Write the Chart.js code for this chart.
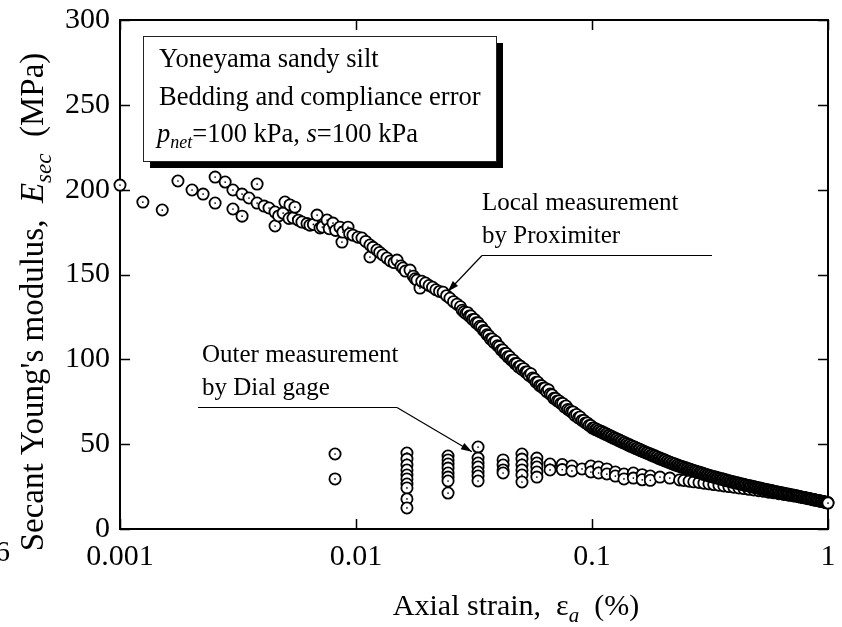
<!DOCTYPE html>
<html>
<head>
<meta charset="utf-8">
<script src="https://cdn.jsdelivr.net/npm/chart.js@4.4.1/dist/chart.umd.min.js"></script>
<style>
html,body{margin:0;padding:0;background:#fff;}
canvas{display:block;}
</style>
</head>
<body>
<canvas id="c" width="842" height="627"></canvas>
<script>
// ---------------- data ----------------
// Local measurement by Proximiter : small strains (scattered part)
const localStrainA = [
0.00100,0.00125,0.00151,0.00176,0.00202,0.00225,0.00253,0.00253,0.00279,0.00301,
0.00301,0.00329,0.00329,0.00352,0.00381,0.00381,0.00408,0.00428,0.00454,0.00454,
0.00470,0.00491,0.00500,0.00520,0.00525,0.00541,0.00551,0.00570,0.00590,0.00620,
0.00638,0.00660,0.00684,0.00704,0.00720,0.00754,0.00770,0.00799,0.00820,0.00855,
0.00872,0.00880,0.00925,0.00940,0.00971,0.01020,0.01060,0.01100,0.01146,0.01146,
0.01180,0.01227,0.01260,0.01300,0.01353,0.01400,0.01450,0.01492,0.01550,0.01582,
0.01620,0.01694,0.01750,0.01780,0.01814,0.01867
];
const localModulusA = [
202.7,192.7,188.0,205.1,199.8,197.4,207.4,192.1,204.5,199.8,
188.6,197.4,184.4,195.1,203.3,192.1,190.3,189.2,186.8,178.6,
184.5,186.2,192.7,183.0,191.0,183.3,189.7,182.0,180.9,180.0,
179.1,179.5,185.0,177.4,178.0,182.1,177.0,180.3,176.0,177.9,
169.1,175.0,177.9,174.0,173.2,172.0,171.5,169.5,167.4,160.3,
166.0,164.4,163.0,161.5,159.7,158.0,157.0,158.5,155.0,153.8,
152.0,152.6,149.0,147.5,146.7,142.0
];
// Local measurement : 0.019 % - 0.1 %
const localStrainB = [
0.0190,0.0197,0.0204,0.0211,0.0218,0.0226,0.0234,0.0242,0.0250,0.0259,
0.0268,0.0277,0.0282,0.0287,0.0292,0.0297,0.0302,0.0307,0.0312,0.0318,
0.0323,0.0329,0.0335,0.0341,0.0347,0.0353,0.0359,0.0365,0.0371,0.0378,
0.0384,0.0391,0.0398,0.0405,0.0412,0.0419,0.0426,0.0433,0.0440,0.0448,
0.0456,0.0464,0.0472,0.0480,0.0488,0.0497,0.0505,0.0514,0.0523,0.0532,
0.0541,0.0551,0.0560,0.0570,0.0580,0.0590,0.0600,0.0611,0.0621,0.0632,
0.0643,0.0654,0.0665,0.0677,0.0689,0.0701,0.0713,0.0725,0.0738,0.0751,
0.0764,0.0777,0.0790,0.0804,0.0818,0.0832,0.0846,0.0861,0.0876,0.0891,
0.0907,0.0923,0.0939,0.0955,0.0971,0.0988,0.1005
];
const localModulusB = [
146,145,143.5,142.5,141,140,139.5,137.5,136,134,
132.5,131,129,128,127,127.5,125.5,125.5,123.5,123.5,
121.5,121.5,119.5,119,117,116.5,114.5,114,112,112,
110,110.5,108,107.5,105.5,105.5,103.5,103.5,101.5,101.5,
99.5,99.5,97.5,97.5,95.5,96,94,94.5,92.5,92.5,
90.5,91.5,89,88.5,86.5,86.5,84.5,84.5,83,83,
81,82,79.5,79,77,77,75.5,75.5,74,74,
72,72.5,70.5,70,69,69,67,67.5,65.5,66,
64,64,62.5,62.5,61,61,59.5
];
// Local measurement : 0.1 % - 1 %
const localStrainC = [
0.1022,0.1035,0.1047,0.1060,0.1073,0.1086,0.1100,0.1114,0.1128,0.1142,
0.1156,0.1170,0.1185,0.1200,0.1214,0.1230,0.1245,0.1260,0.1276,0.1292,
0.1308,0.1324,0.1340,0.1357,0.1374,0.1391,0.1408,0.1425,0.1443,0.1461,
0.1479,0.1497,0.1516,0.1535,0.1554,0.1573,0.1593,0.1613,0.1633,0.1653,
0.1674,0.1695,0.1716,0.1737,0.1759,0.1781,0.1803,0.1825,0.1848,0.1871,
0.1894,0.1917,0.1941,0.1965,0.1990,0.2015,0.2040,0.2065,0.2091,0.2117,
0.2143,0.2169,0.2196,0.2223,0.2251,0.2279,0.2308,0.2336,0.2365,0.2394,
0.2424,0.2454,0.2485,0.2516,0.2547,0.2579,0.2611,0.2643,0.2676,0.2709,
0.2743,0.2777,0.2812,0.2847,0.2882,0.2918,0.2954,0.2991,0.3028,0.3066,
0.3104,0.3142,0.3181,0.3221,0.3261,0.3301,0.3342,0.3384,0.3426,0.3469,
0.3512,0.3555,0.3599,0.3644,0.3689,0.3735,0.3782,0.3829,0.3876,0.3924,
0.3973,0.4023,0.4073,0.4123,0.4174,0.4226,0.4279,0.4332,0.4386,0.4440,
0.4495,0.4551,0.4608,0.4665,0.4723,0.4782,0.4841,0.4901,0.4962,0.5024,
0.5086,0.5149,0.5213,0.5278,0.5344,0.5410,0.5477,0.5545,0.5614,0.5684,
0.5755,0.5827,0.5899,0.5972,0.6046,0.6121,0.6197,0.6274,0.6352,0.6431,
0.6511,0.6592,0.6674,0.6757,0.6841,0.6926,0.7012,0.7099,0.7187,0.7276,
0.7367,0.7459,0.7551,0.7645,0.7740,0.7836,0.7933,0.8032,0.8132,0.8233,
0.8335,0.8438,0.8543,0.8649,0.8757,0.8866,0.8976,0.9087,0.9200,0.9314,
0.9430,0.9547,0.9666,0.9786,0.9908,1.0000
];
const localModulusC = [
59.5,58.6,58.8,57.9,58.1,57.2,57.4,56.5,56.7,55.8,
56.0,55.1,55.2,54.3,54.5,53.6,53.8,53.0,53.1,52.2,
52.4,51.5,51.7,50.8,51.0,50.1,50.3,49.4,49.6,48.7,
48.9,48.1,48.3,47.4,47.6,46.8,47.0,46.1,46.3,45.5,
45.6,44.8,45.0,44.2,44.4,43.5,43.7,42.9,43.1,42.3,
42.5,41.6,41.8,41.0,41.2,40.4,40.6,39.8,40.0,39.2,
39.4,38.6,38.8,38.0,38.3,37.5,37.7,37.0,37.2,36.5,
36.7,36.0,36.2,35.5,35.7,35.0,35.2,34.5,34.7,34.0,
34.2,33.6,33.8,33.1,33.3,32.6,32.8,32.1,32.3,31.7,
31.9,31.2,31.4,30.8,31.0,30.4,30.6,30.0,30.2,29.6,
29.8,29.2,29.4,28.8,29.0,28.4,28.6,28.0,28.2,27.6,
27.8,27.3,27.4,26.9,27.1,26.6,26.7,26.2,26.4,25.9,
26.0,25.5,25.7,25.2,25.3,24.8,25.0,24.5,24.6,24.2,
24.3,23.8,24.0,23.5,23.6,23.2,23.3,22.9,23.0,22.6,
22.7,22.4,22.3,21.9,22.0,21.6,21.7,21.3,21.4,21.0,
21.1,20.7,20.8,20.4,20.5,20.1,20.2,19.8,19.9,19.5,
19.6,19.3,19.2,18.8,18.9,18.5,18.6,18.2,18.3,17.9,
18.0,17.7,17.6,17.2,17.3,16.9,17.0,16.7,16.6,16.2,
16.3,16.0,15.9,15.6,15.5,15.3
];
// Outer measurement by Dial gage
const outerStrain = [
0.00815,0.00815,
0.01644,0.01644,0.01644,0.01644,0.01644,0.01644,0.01644,0.01644,0.01644,0.01644,
0.02455,0.02455,0.02455,0.02455,0.02455,0.02455,0.02455,0.02455,
0.0329,0.0329,0.0329,0.0329,0.0329,0.0329,0.0329,
0.0420,0.0420,0.0420,0.0420,
0.0505,0.0505,0.0505,0.0505,0.0505,0.0505,
0.0584,0.0584,0.0584,0.0584,0.0584,
0.0664,0.0664,0.0748,0.0748,0.0822,0.0822,0.0907,0.0989,0.0989,
0.1066,0.1066,0.1156,0.1156,0.1256,0.1256,0.1366,0.1366,0.1497,0.1497,
0.1632,0.1632,0.1766,0.1766,0.1941,0.2136,0.2350,
0.245,0.258,0.270,0.284,0.298,0.313,0.328,0.345,0.362,0.380,
0.399,0.419,0.440,0.462,0.485,0.509,0.535,0.561,0.589,0.619,
0.650,0.682,0.716,0.752,0.790,0.829,0.871,0.914,0.960,1.000
];
const outerModulus = [
44.2,29.5,
44.8,41.2,37.7,34.8,31.8,29.5,26.5,24.2,17.7,12.4,
43.0,40.7,38.3,35.9,33.0,30.6,28.3,21.2,
48.3,41.8,38.9,36.5,33.6,31.2,28.3,
40.7,37.7,34.8,33.0,
44.2,41.2,37.7,34.8,31.8,27.7,
41.8,38.9,36.5,33.6,30.6,
38.3,34.8,38.0,35.0,37.1,34.2,35.4,37.1,33.6,
36.5,33.0,35.4,32.4,33.6,31.2,32.4,29.5,33.0,30.0,
32.0,29.0,31.2,28.7,30.6,30.0,28.9,
28.6,28.2,27.8,27.4,27.0,26.6,26.2,25.8,25.4,25.0,
24.6,24.2,23.8,23.4,23.0,22.6,22.2,21.7,21.3,20.8,
20.4,19.9,19.5,19.0,18.5,18.0,17.4,16.8,16.2,15.6
];
// axes
const xTickValues = [0.001, 0.01, 0.1, 1];
const xTickLabels = ['0.001', '0.01', '0.1', '1'];
const yTickValues = [0, 50, 100, 150, 200, 250, 300];
const yTickLabels = ['0', '50', '100', '150', '200', '250', '300'];
// arrow targets of the two call-outs (data coordinates)
const localArrowTarget = {x: 0.0245, y: 140};
const outerArrowTarget = {x: 0.0310, y: 45.5};

const localStrain = localStrainA.concat(localStrainB, localStrainC);
const localModulus = localModulusA.concat(localModulusB, localModulusC);

// ---------------- drawing ----------------
const SERIF = '"Liberation Serif", "Times New Roman", serif';

// every marker: open circle with a small centre dot
const origPointDraw = Chart.PointElement.prototype.draw;
Chart.PointElement.prototype.draw = function (ctx, area) {
  origPointDraw.call(this, ctx, area);
  if (this.skip || !this.options || this.options.radius < 0.1) return;
  ctx.save();
  ctx.fillStyle = '#000';
  ctx.beginPath(); ctx.arc(this.x, this.y, 0.85, 0, Math.PI * 2); ctx.fill();
  ctx.restore();
};

function richWidth(ctx, parts) {
  let w = 0;
  for (const p of parts) { ctx.font = p.font; w += ctx.measureText(p.text).width; }
  return w;
}
function drawRich(ctx, parts, x, y) {
  let cx = x;
  for (const p of parts) {
    ctx.font = p.font;
    ctx.fillText(p.text, cx, y + (p.dy || 0));
    cx += ctx.measureText(p.text).width;
  }
}
function arrowLine(ctx, x1, y1, x2, y2) {
  ctx.beginPath(); ctx.moveTo(x1, y1); ctx.lineTo(x2, y2); ctx.stroke();
  const a = Math.atan2(y2 - y1, x2 - x1), L = 11, W = 3.6;
  ctx.beginPath();
  ctx.moveTo(x2, y2);
  ctx.lineTo(x2 - L * Math.cos(a) + W * Math.sin(a), y2 - L * Math.sin(a) - W * Math.cos(a));
  ctx.lineTo(x2 - L * Math.cos(a) - W * Math.sin(a), y2 - L * Math.sin(a) + W * Math.cos(a));
  ctx.closePath(); ctx.fill();
}

const bgPlugin = {
  id: 'bg',
  beforeDraw(chart) {
    const ctx = chart.ctx;
    ctx.save(); ctx.fillStyle = '#fff'; ctx.fillRect(0, 0, chart.width, chart.height); ctx.restore();
  }
};

const framePlugin = {
  id: 'frame',
  beforeDatasetsDraw(chart) {
    const ctx = chart.ctx, {left, right, top, bottom} = chart.chartArea;
    const xs = chart.scales.x, ys = chart.scales.y;
    ctx.save();
    ctx.strokeStyle = '#000';
    ctx.lineWidth = 1.5;
    for (const t of xs.ticks) {
      const lg = Math.log10(t.value);
      const major = Math.abs(lg - Math.round(lg)) < 1e-6;
      const len = major ? 10 : 6;
      const px = Math.round(xs.getPixelForValue(t.value)) + 0.5;
      ctx.beginPath();
      ctx.moveTo(px, bottom); ctx.lineTo(px, bottom - len);
      ctx.moveTo(px, top); ctx.lineTo(px, top + len);
      ctx.stroke();
    }
    for (const t of ys.ticks) {
      const major = t.value % 50 === 0;
      const len = major ? 10 : 6;
      const py = Math.round(ys.getPixelForValue(t.value)) + 0.5;
      ctx.beginPath();
      ctx.moveTo(left, py); ctx.lineTo(left + len, py);
      ctx.moveTo(right, py); ctx.lineTo(right - len, py);
      ctx.stroke();
    }
    ctx.lineWidth = 2;
    ctx.strokeRect(left, top, right - left, bottom - top);
    ctx.restore();
  }
};

const annotPlugin = {
  id: 'annot',
  afterDatasetsDraw(chart) {
    const ctx = chart.ctx;
    const xs = chart.scales.x, ys = chart.scales.y;
    ctx.save();
    ctx.fillStyle = '#000'; ctx.strokeStyle = '#000';
    ctx.textAlign = 'left'; ctx.textBaseline = 'alphabetic';

    // info box with shadow
    ctx.fillRect(150, 43, 353, 125);
    ctx.fillStyle = '#fff';
    ctx.fillRect(143, 36, 353, 126);
    ctx.lineWidth = 1; ctx.strokeStyle = '#222';
    ctx.strokeRect(143.5, 36.5, 353, 125);
    ctx.fillStyle = '#000'; ctx.strokeStyle = '#000';
    const bf = '26.5px ' + SERIF, bfi = 'italic 26.5px ' + SERIF, bfs = 'italic 18px ' + SERIF;
    drawRich(ctx, [{text: 'Yoneyama sandy silt', font: bf}], 159, 67);
    drawRich(ctx, [{text: 'Bedding and compliance error', font: bf}], 159, 104.5);
    drawRich(ctx, [
      {text: 'p', font: bfi}, {text: 'net', font: bfs, dy: 6},
      {text: '=100 kPa, ', font: bf}, {text: 's', font: bfi}, {text: '=100 kPa', font: bf}
    ], 157, 142);

    // call-out: local
    const af = '25px ' + SERIF;
    drawRich(ctx, [{text: 'Local measurement', font: af}], 482, 210);
    drawRich(ctx, [{text: 'by Proximiter', font: af}], 482, 243);
    ctx.lineWidth = 1.2;
    ctx.beginPath(); ctx.moveTo(482, 255.5); ctx.lineTo(712, 255.5); ctx.stroke();
    arrowLine(ctx, 482, 255.5, xs.getPixelForValue(localArrowTarget.x), ys.getPixelForValue(localArrowTarget.y));

    // call-out: outer
    drawRich(ctx, [{text: 'Outer measurement', font: af}], 202, 362);
    drawRich(ctx, [{text: 'by Dial gage', font: af}], 202, 395);
    ctx.beginPath(); ctx.moveTo(198, 407.5); ctx.lineTo(397, 407.5); ctx.stroke();
    arrowLine(ctx, 397, 407.5, xs.getPixelForValue(outerArrowTarget.x), ys.getPixelForValue(outerArrowTarget.y));

    // axis titles
    const tf = '30px ' + SERIF, tfs = 'italic 21px ' + SERIF;
    const xt = [
      {text: 'Axial strain,  ', font: tf}, {text: '\u03b5', font: tf},
      {text: 'a', font: tfs, dy: 7}, {text: '  (%)', font: tf}
    ];
    drawRich(ctx, xt, 516 - richWidth(ctx, xt) / 2, 615);

    const yf = '33px ' + SERIF, yfi = 'italic 33px ' + SERIF, yfs = 'italic 23px ' + SERIF;
    const yt = [
      {text: 'Secant Young\'s modulus,  ', font: yf}, {text: 'E', font: yfi},
      {text: 'sec', font: yfs, dy: 8}, {text: '  (MPa)', font: yf}
    ];
    ctx.save();
    ctx.translate(43, 302);
    ctx.rotate(-Math.PI / 2);
    drawRich(ctx, yt, -richWidth(ctx, yt) / 2, 0);
    ctx.restore();

    // stray glyph at the lower-left edge of the picture
    ctx.font = tf;
    ctx.fillText('6', -5, 561);
    ctx.restore();
  }
};

const pointStyleOpts = {
  pointStyle: 'circle', pointRadius: 5.6, pointBorderWidth: 1.8,
  pointBackgroundColor: '#fff', pointBorderColor: '#000',
  backgroundColor: '#fff', borderColor: '#000', showLine: false, clip: false
};

const ctx = document.getElementById('c').getContext('2d');
new Chart(ctx, {
  type: 'scatter',
  data: {
    datasets: [
      Object.assign({
        label: 'Local measurement by Proximiter',
        data: localStrain.map((x, i) => ({x: x, y: localModulus[i]}))
      }, pointStyleOpts),
      Object.assign({
        label: 'Outer measurement by Dial gage',
        data: outerStrain.map((x, i) => ({x: x, y: outerModulus[i]}))
      }, pointStyleOpts)
    ]
  },
  options: {
    responsive: false,
    animation: false,
    devicePixelRatio: 1,
    layout: {padding: {left: 0, right: 14, top: 20, bottom: 0}},
    plugins: {legend: {display: false}, tooltip: {enabled: false}},
    scales: {
      x: {
        type: 'logarithmic', min: 0.001, max: 1,
        grid: {display: false, drawTicks: false},
        border: {display: false},
        ticks: {
          autoSkip: false, maxRotation: 0, padding: 10, color: '#000',
          font: {family: SERIF, size: 30},
          callback: (v) => {
            const i = xTickValues.findIndex(t => Math.abs(t - v) / t < 1e-6);
            return i >= 0 ? xTickLabels[i] : null;
          }
        },
        afterFit: (s) => { s.height = 98; s.paddingLeft = 0; s.paddingRight = 0; }
      },
      y: {
        min: 0, max: 300,
        grid: {display: false, drawTicks: false},
        border: {display: false},
        ticks: {
          stepSize: 25, padding: 10, color: '#000',
          font: {family: SERIF, size: 30},
          callback: (v) => {
            const i = yTickValues.indexOf(v);
            return i >= 0 ? yTickLabels[i] : null;
          }
        },
        afterFit: (s) => { s.width = 120; s.paddingTop = 0; s.paddingBottom = 0; }
      }
    }
  },
  plugins: [bgPlugin, framePlugin, annotPlugin]
});
</script>
</body>
</html>
